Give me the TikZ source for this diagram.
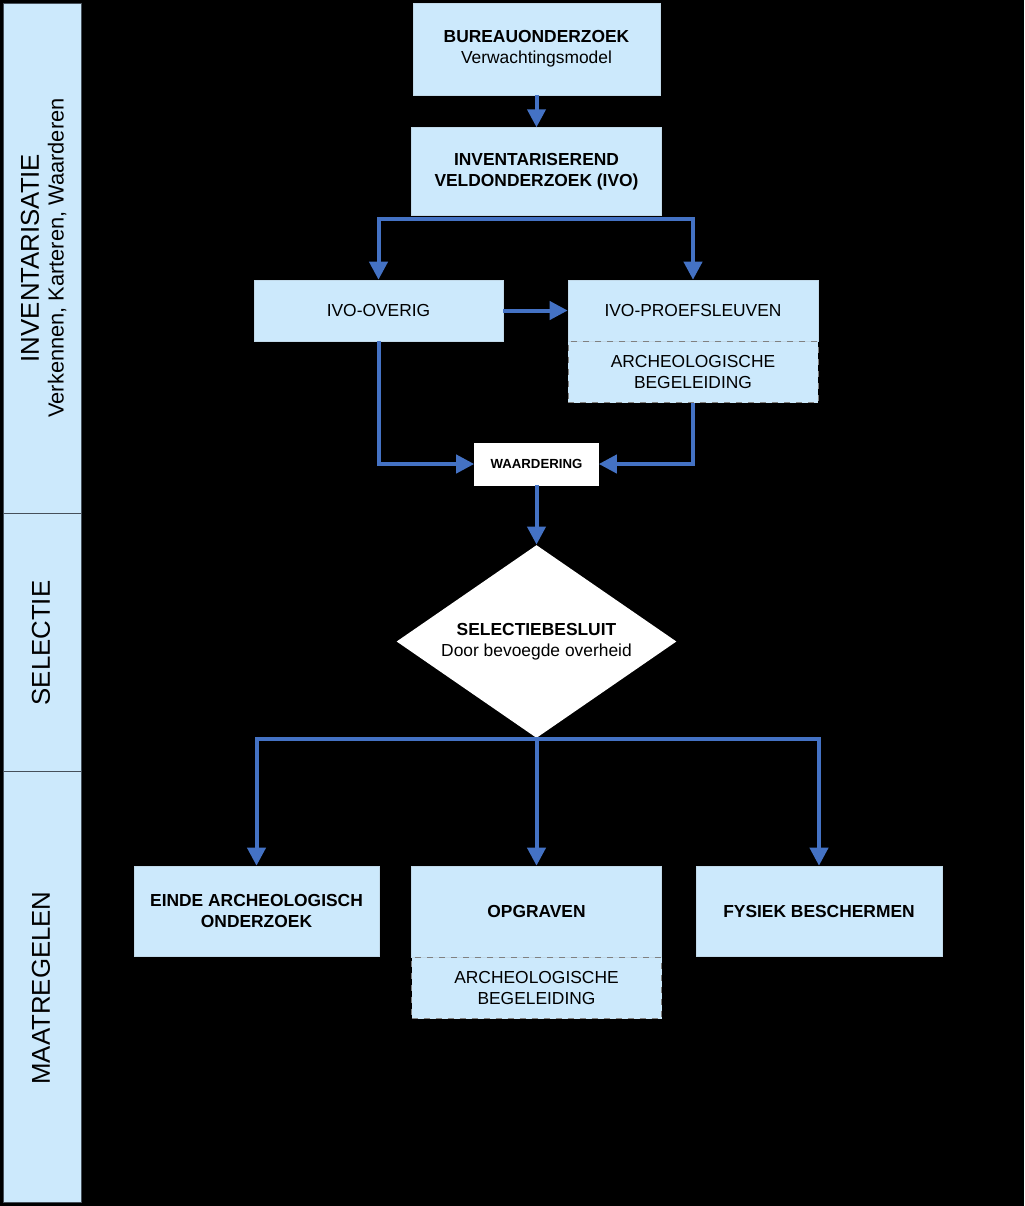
\documentclass[tikz,border=0pt]{standalone}
\usepackage{fontspec}
\setmainfont{Liberation Sans}
\usetikzlibrary{
  arrows.meta,
  positioning,
  shapes.geometric,
}
\definecolor{boxblue}{RGB}{204,233,252}
\definecolor{arrowblue}{RGB}{68,114,196}
\definecolor{lanegray}{RGB}{70,80,90}

\begin{document}
\begin{tikzpicture}[x=0.5pt,y=-0.5pt]%
\tikzstyle{thing}=[rectangle,fill=boxblue,draw=boxblue!85!gray,line width=0.3pt,inner sep=2pt,align=center,font=\fontsize{8.7}{10.5}\selectfont]
\tikzstyle{subthing}=[thing,draw=gray,dashed,line width=0.4pt]
\tikzstyle{lane}=[fill=boxblue,draw=lanegray,line width=0.5pt]
\tikzstyle{lanetitle}=[rotate=90,font=\fontsize{12.9}{15}\selectfont]
\tikzstyle{flow}=[draw=arrowblue,line width=2pt,-{Triangle[length=9pt,width=9pt]}]
\fill[black] (0,0) rectangle (1024,1206);
\draw[lane] (3,3) rectangle (81,513);
\draw[lane] (3,513) rectangle (81,771);
\draw[lane] (3,771) rectangle (81,1202);
\node[lanetitle] (inv) at (30,258) {INVENTARISATIE};
\node[lanetitle,font=\fontsize{10.9}{13}\selectfont] (invsub) at (57,258) {Verkennen, Karteren, Waarderen};
\node[lanetitle] (sel) at (41,643) {SELECTIE};
\node[lanetitle] (maat) at (41,988) {MAATREGELEN};
\node[thing,minimum width=123.5pt,minimum height=46pt] (bureau) at (536.5,49) {\textbf{BUREAUONDERZOEK}\\Verwachtingsmodel};
\node[thing,minimum width=125pt,minimum height=44pt] (ivo) [below=16pt of bureau] {\textbf{INVENTARISEREND}\\\textbf{VELDONDERZOEK (IVO)}};
\node[thing,minimum width=124.5pt,minimum height=30.5pt] (overig) at (378.5,310.5) {IVO-OVERIG};
\node[thing,minimum width=125pt,minimum height=30.5pt] (proef) at (693,310.5) {IVO-PROEFSLEUVEN};
\node[subthing,minimum width=125pt,minimum height=30.5pt] (proefbeg) [below=0pt of proef] {ARCHEOLOGISCHE\\BEGELEIDING};
\node[thing,fill=white,draw=white,minimum width=62pt,minimum height=21pt,font=\fontsize{6.6}{8}\selectfont\bfseries] (waard) at (536.5,464) {WAARDERING};
\node[diamond,fill=white,aspect=1.45,inner sep=0pt,minimum width=140pt,minimum height=96.5pt,align=center,font=\fontsize{8.7}{10.5}\selectfont] (besluit) at (536.5,641.5) {\textbf{SELECTIEBESLUIT}\\Door bevoegde overheid};
\node[thing,minimum width=122.5pt,minimum height=45pt] (einde) at (256.5,911) {\textbf{EINDE ARCHEOLOGISCH}\\\textbf{ONDERZOEK}};
\node[thing,minimum width=125pt,minimum height=45.5pt] (opgr) at (536.5,911.5) {\textbf{OPGRAVEN}};
\node[subthing,minimum width=125pt,minimum height=30.5pt] (opgrbeg) [below=0pt of opgr] {ARCHEOLOGISCHE\\BEGELEIDING};
\node[thing,minimum width=123pt,minimum height=45pt] (fysiek) at (819,911) {\textbf{FYSIEK BESCHERMEN}};
\draw[flow] (bureau) -- (ivo);
\coordinate (split) at ([yshift=-1.5pt]ivo.south);
\draw[flow] (split) -| (overig);
\draw[flow] (split) -| (proef);
\draw[flow] (overig) -- (proef);
\draw[flow] (overig.south) |- (waard);
\draw[flow] (proefbeg.south) |- (waard);
\draw[flow] (waard) -- (besluit);
\coordinate (split2) at ([yshift=-0.5pt]besluit.south);
\draw[flow] (split2) -| (einde);
\draw[flow] (split2) -- (opgr);
\draw[flow] (split2) -| (fysiek);
\end{tikzpicture}
\end{document}
